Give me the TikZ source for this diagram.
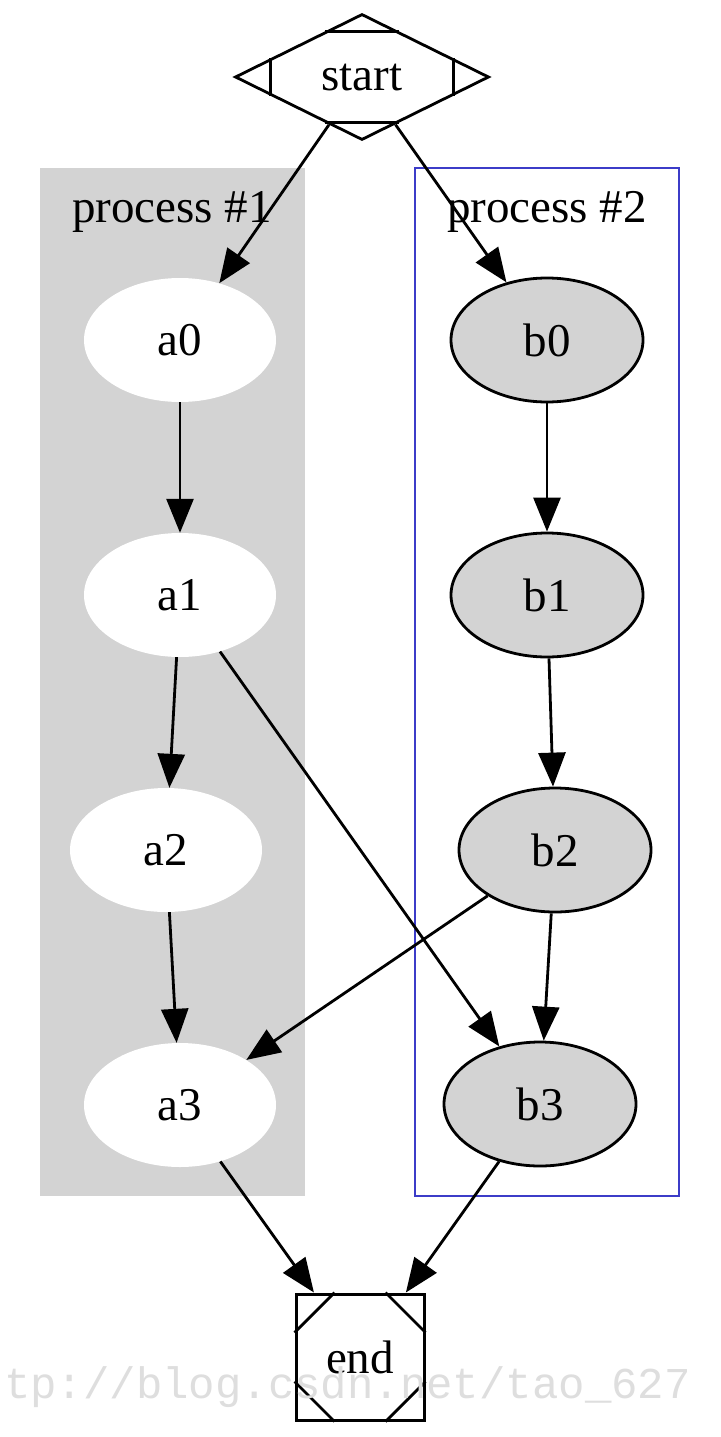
\documentclass[tikz,border=0pt]{standalone}
\usepackage{fontspec}
\setmainfont{Liberation Serif}
\newfontfamily\wmfont{Liberation Mono}
\usetikzlibrary{shapes.geometric,arrows.meta,calc}
\definecolor{clgray}{RGB}{211,211,211}
\definecolor{clblue}{RGB}{60,60,200}
\definecolor{wmgray}{RGB}{222,222,222}
\begin{document}
\begin{tikzpicture}[x=1pt,y=1pt,
  lbl/.style={font=\fontsize{47}{56}\selectfont},
  anode/.style={ellipse, fill=white, minimum width=192pt, minimum height=124pt, inner sep=0pt, lbl},
  bnode/.style={ellipse, draw=black, line width=2.8pt, fill=clgray, minimum width=192pt, minimum height=124pt, inner sep=0pt, lbl},
  edgeln/.style={line width=2.8pt, -{Triangle[length=34pt,width=27pt]}},
  mline/.style={line width=2.8pt},
]
\useasboundingbox (0,0) rectangle (720,-1437);
\fill[white] (0,0) rectangle (720,-1437);
% clusters
\fill[clgray] (40,-168) rectangle (305,-1196);
\draw[clblue, line width=2.8pt] (415,-168) rectangle (679,-1196);
\node[lbl, anchor=base, inner sep=0pt] (c1) at (172,-222) {process \#1};
\node[lbl, anchor=base, inner sep=0pt] (c2) at (547,-222) {process \#2};
% nodes
\node[diamond, draw=black, line width=2.8pt, fill=white, minimum width=254pt, minimum height=126pt, inner sep=0pt, shape aspect=2, lbl] (s) at (362,-77) {start};
\draw[mline] ($(s.west)!0.29!(s.north)$) -- ($(s.west)!0.29!(s.south)$);
\draw[mline] ($(s.east)!0.29!(s.north)$) -- ($(s.east)!0.29!(s.south)$);
\draw[mline] ($(s.north)!0.29!(s.west)$) -- ($(s.north)!0.29!(s.east)$);
\draw[mline] ($(s.south)!0.29!(s.west)$) -- ($(s.south)!0.29!(s.east)$);
\node[anode] (a0) at (180,-340) {a0};
\node[anode] (a1) at (180,-595) {a1};
\node[anode] (a2) at (166,-850) {a2};
\node[anode] (a3) at (180,-1105) {a3};
\node[bnode] (b0) at (547,-340) {b0};
\node[bnode] (b1) at (547,-595) {b1};
\node[bnode] (b2) at (555,-850) {b2};
\node[bnode] (b3) at (540,-1104) {b3};
\node[rectangle, draw=black, line width=3pt, fill=white, minimum width=128pt, minimum height=126pt, inner sep=0pt, lbl] (e) at (360,-1357) {end};
\draw[mline] ($(e.north west)+(0,-40)$) -- ($(e.north west)+(40,0)$);
\draw[mline] ($(e.north east)+(0,-40)$) -- ($(e.north east)+(-40,0)$);
\draw[mline] ($(e.south west)+(0,40)$) -- ($(e.south west)+(40,0)$);
\draw[mline] ($(e.south east)+(0,40)$) -- ($(e.south east)+(-40,0)$);
% edges
\draw[edgeln] (s) -- (a0);
\draw[edgeln] (s) -- (b0);
\draw[edgeln] (a0) -- (a1);
\draw[edgeln] (a1) -- (a2);
\draw[edgeln] (a2) -- (a3);
\draw[edgeln] (a3) -- (e);
\draw[edgeln] (b0) -- (b1);
\draw[edgeln] (b1) -- (b2);
\draw[edgeln] (b2) -- (b3);
\draw[edgeln] (b3) -- (e);
\draw[edgeln] (a1) -- (b3);
\draw[edgeln] (b2) -- (a3);
% watermark
\node[anchor=base west, text=wmgray, font=\wmfont\fontsize{44}{50}\selectfont, inner sep=0pt] (wm) at (4,-1398) {tp://blog.csdn.net/tao\_627};
\end{tikzpicture}
\end{document}
